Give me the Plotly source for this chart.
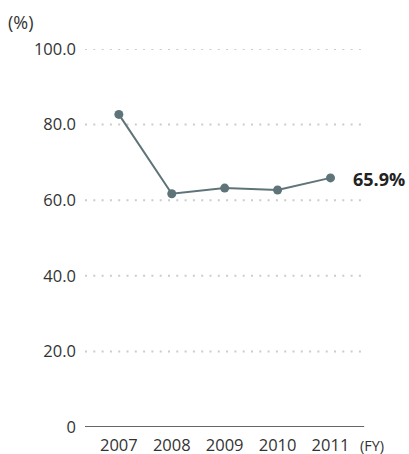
import plotly.graph_objects as go

years = ["2007", "2008", "2009", "2010", "2011"]
ratio = [82.7, 61.7, 63.2, 62.7, 65.9]
y_ticks = [0, 20, 40, 60, 80, 100]
y_tick_labels = ["0", "20.0", "40.0", "60.0", "80.0", "100.0"]

x_idx = list(range(len(years)))
line_color = "#5f7479"
text_color = "#333333"
font_family = "Open Sans"

fig = go.Figure()

# Dotted horizontal gridlines (drawn as shapes so the dots can be styled)
for v in y_ticks[1:]:
    fig.add_shape(type="line", xref="paper", yref="y", x0=0, x1=1, y0=v, y1=v,
                  line=dict(color="#cccccc", width=2, dash="2px,6.3px"), layer="below")

# Baseline at zero
fig.add_shape(type="line", xref="paper", yref="y", x0=0, x1=0.99, y0=0, y1=0,
              line=dict(color="#333333", width=1.4))

fig.add_trace(go.Scatter(
    x=x_idx, y=ratio, mode="lines+markers",
    line=dict(color=line_color, width=2),
    marker=dict(color=line_color, size=9),
    hoverinfo="skip", showlegend=False, cliponaxis=False,
))

# Value label for the latest year
fig.add_annotation(x=x_idx[-1], y=ratio[-1], text=f"<b>{ratio[-1]:.1f}%</b>",
                   xref="x", yref="y", showarrow=False, xanchor="left",
                   xshift=21, yshift=-1,
                   font=dict(family=font_family, size=18, color="#222222"))

# Unit labels
fig.add_annotation(x=0, y=1, xref="paper", yref="paper", text="(%)",
                   showarrow=False, xanchor="left", yanchor="bottom",
                   xshift=-79, yshift=13,
                   font=dict(family=font_family, size=18, color=text_color))
fig.add_annotation(x=1, y=0, xref="paper", yref="paper", text="(FY)",
                   showarrow=False, xanchor="left", yanchor="top",
                   xshift=-9, yshift=-7,
                   font=dict(family=font_family, size=14.5, color=text_color))

fig.update_layout(
    width=409, height=454,
    margin=dict(l=85, r=42, t=49, b=27, autoexpand=False),
    paper_bgcolor="white", plot_bgcolor="white",
    font=dict(family=font_family, size=16.5, color=text_color),
    xaxis=dict(range=[-0.64, 4.69], tickvals=x_idx, ticktext=years,
               showgrid=False, zeroline=False, showline=False, ticks="",
               automargin=False, ticklabelstandoff=6, tickfont=dict(size=16.5)),
    yaxis=dict(range=[0, 100], tickvals=y_ticks, ticktext=y_tick_labels,
               showgrid=False, zeroline=False, showline=False, ticks="",
               automargin=False, ticklabelstandoff=8, tickfont=dict(size=16.5)),
)

fig.write_html("out.html")
